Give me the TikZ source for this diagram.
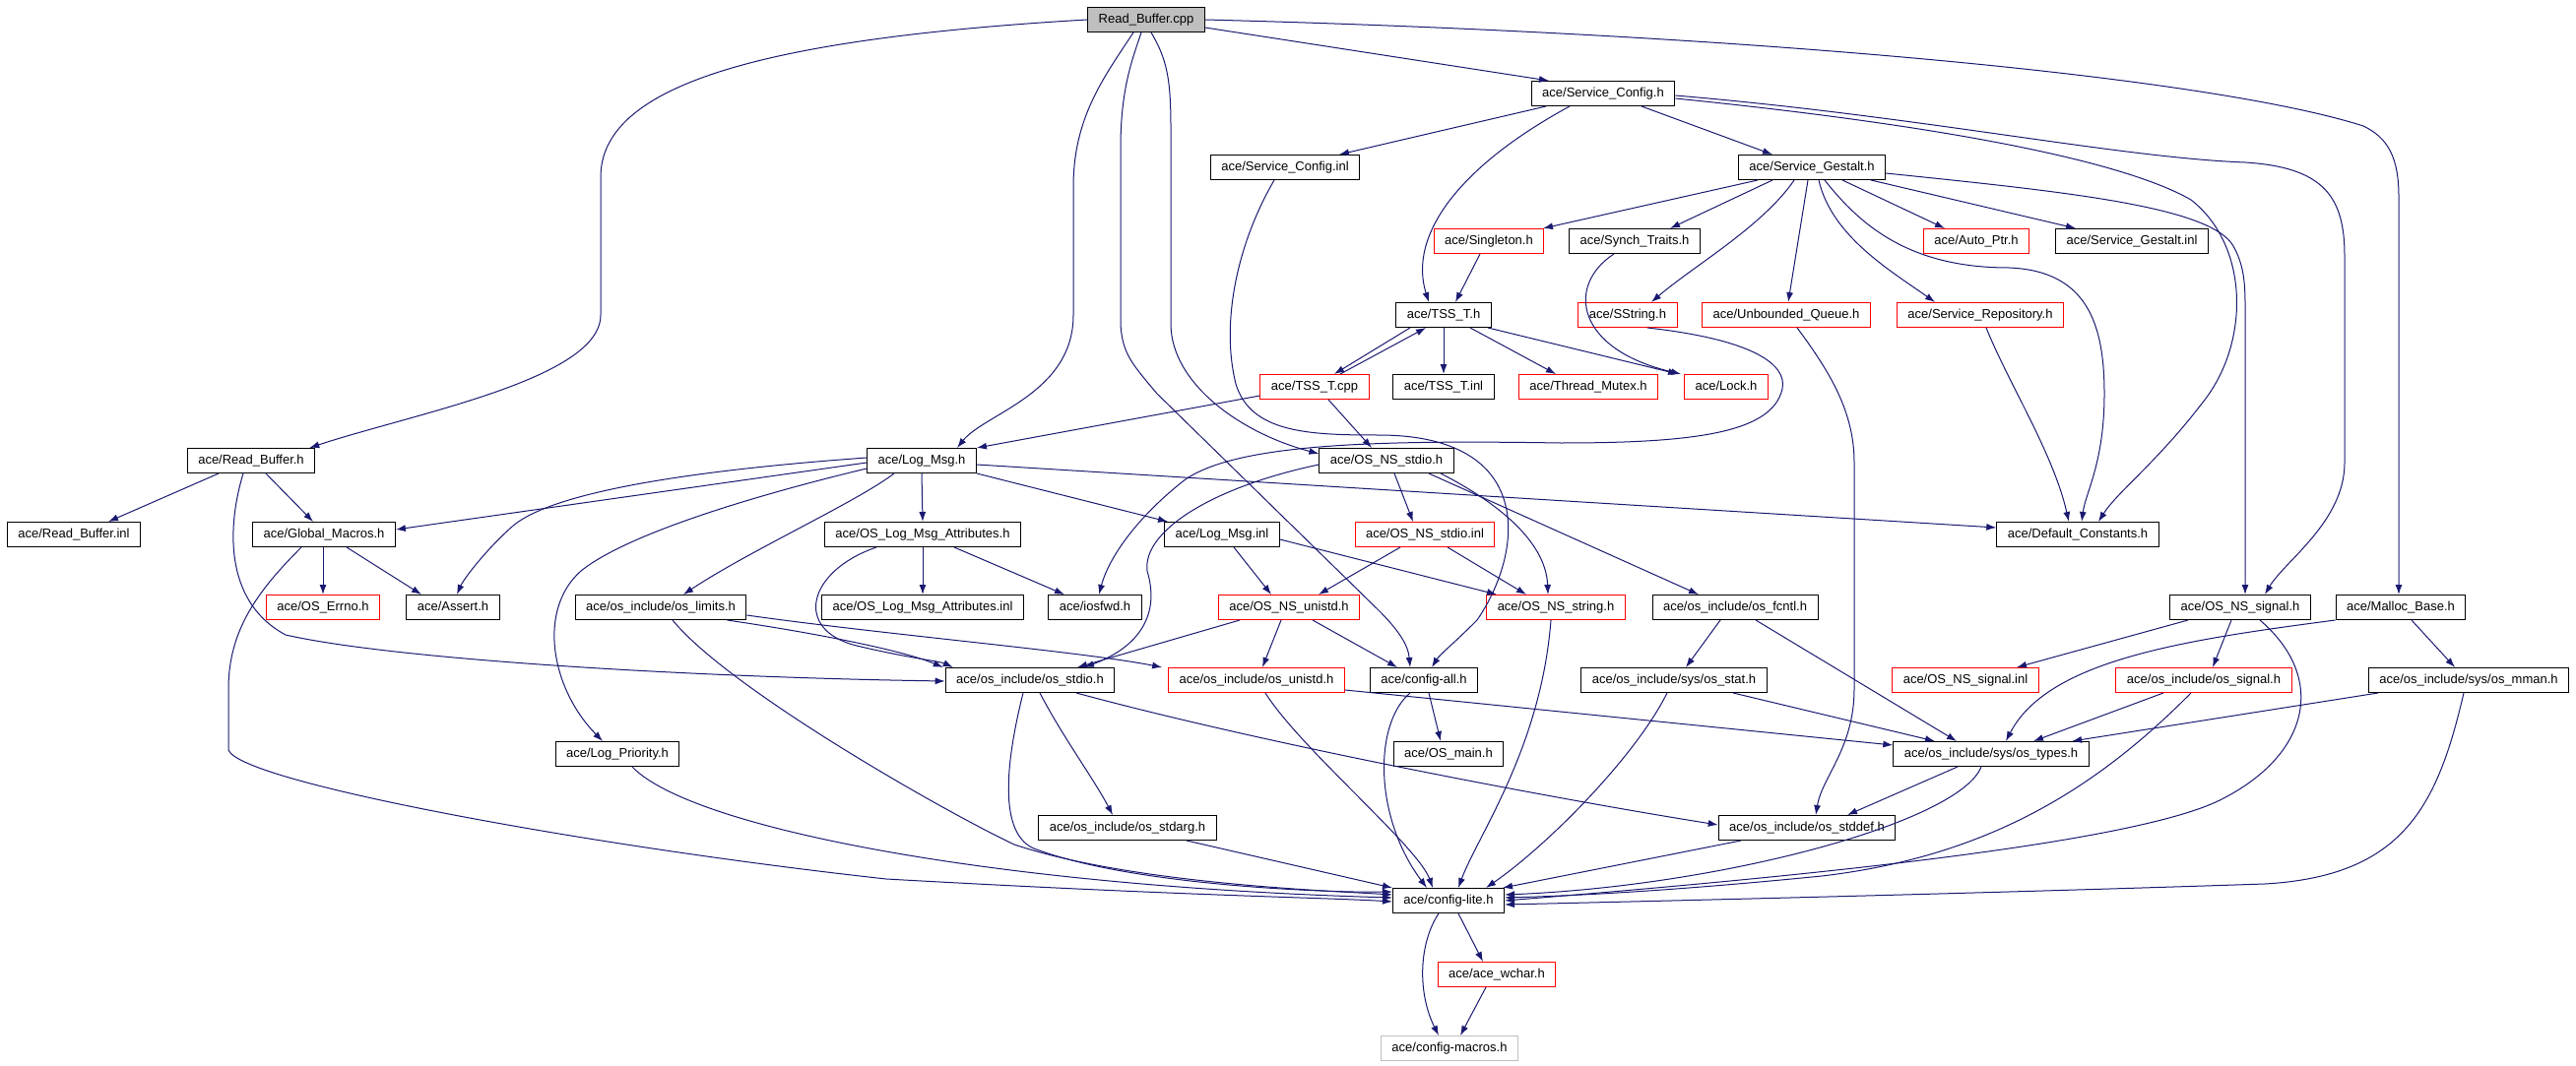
\documentclass[tikz,border=0pt]{standalone}
\usepackage{fontspec}
\setmainfont{Liberation Sans}
\usetikzlibrary{arrows.meta}
\definecolor{edgeblue}{RGB}{25,25,112}
\definecolor{cppgray}{RGB}{191,191,191}

\begin{document}
\begin{tikzpicture}[x=1pt, y=-1pt,
  hdr/.style={draw=black, fill=white, line width=1pt, minimum height=25pt, inner xsep=11pt, inner ysep=0pt,
    text height=9.5pt, text depth=2.8pt, font=\fontsize{13pt}{15pt}\selectfont},
  hdrred/.style={hdr, draw=red},
  dep/.style={draw=edgeblue, line width=1pt, -{Latex[length=10pt,width=7pt]}}]
\useasboundingbox (0,0) rectangle (2616,1083);

% Header files, row by row
\node[hdr, fill=cppgray] (cpp) at (1164,20) {Read\_Buffer.cpp};
\node[hdr] (svccfg) at (1628,95) {ace/Service\_Config.h};
\node[hdr] (svccfginl) at (1305,170) {ace/Service\_Config.inl};
\node[hdr] (gestalt) at (1840,170) {ace/Service\_Gestalt.h};
\node[hdrred] (singleton) at (1512,245) {ace/Singleton.h};
\node[hdr] (synch) at (1660,245) {ace/Synch\_Traits.h};
\node[hdrred] (autoptr) at (2007,245) {ace/Auto\_Ptr.h};
\node[hdr] (gestaltinl) at (2165,245) {ace/Service\_Gestalt.inl};
\node[hdr] (tsst) at (1466,320) {ace/TSS\_T.h};
\node[hdrred] (sstring) at (1653,320) {ace/SString.h};
\node[hdrred] (unbq) at (1814,320) {ace/Unbounded\_Queue.h};
\node[hdrred] (svcrepo) at (2011,320) {ace/Service\_Repository.h};
\node[hdrred] (tsscpp) at (1335,393) {ace/TSS\_T.cpp};
\node[hdr] (tssinl) at (1466,393) {ace/TSS\_T.inl};
\node[hdrred] (mutex) at (1613,393) {ace/Thread\_Mutex.h};
\node[hdrred] (lock) at (1753,393) {ace/Lock.h};
\node[hdr] (rbh) at (255,468) {ace/Read\_Buffer.h};
\node[hdr] (logmsg) at (936,468) {ace/Log\_Msg.h};
\node[hdr] (nsstdio) at (1408,468) {ace/OS\_NS\_stdio.h};
\node[hdr] (rbinl) at (75,543) {ace/Read\_Buffer.inl};
\node[hdr] (globmac) at (329,543) {ace/Global\_Macros.h};
\node[hdr] (attr) at (937,543) {ace/OS\_Log\_Msg\_Attributes.h};
\node[hdr] (logmsginl) at (1241,543) {ace/Log\_Msg.inl};
\node[hdrred] (nsstdioinl) at (1447,543) {ace/OS\_NS\_stdio.inl};
\node[hdr] (defconst) at (2110,543) {ace/Default\_Constants.h};
\node[hdrred] (errno) at (328,617) {ace/OS\_Errno.h};
\node[hdr] (assert) at (460,617) {ace/Assert.h};
\node[hdr] (limits) at (671,617) {ace/os\_include/os\_limits.h};
\node[hdr] (attrinl) at (937,617) {ace/OS\_Log\_Msg\_Attributes.inl};
\node[hdr] (iosfwd) at (1112,617) {ace/iosfwd.h};
\node[hdrred] (nsunistd) at (1309,617) {ace/OS\_NS\_unistd.h};
\node[hdrred] (nsstring) at (1580,617) {ace/OS\_NS\_string.h};
\node[hdr] (fcntl) at (1762,617) {ace/os\_include/os\_fcntl.h};
\node[hdr] (nssignal) at (2275,617) {ace/OS\_NS\_signal.h};
\node[hdr] (malloc) at (2438,617) {ace/Malloc\_Base.h};
\node[hdr] (stdio) at (1046,691) {ace/os\_include/os\_stdio.h};
\node[hdrred] (unistd) at (1276,691) {ace/os\_include/os\_unistd.h};
\node[hdr] (configall) at (1446,691) {ace/config-all.h};
\node[hdr] (stat) at (1700,691) {ace/os\_include/sys/os\_stat.h};
\node[hdrred] (nssignalinl) at (1996,691) {ace/OS\_NS\_signal.inl};
\node[hdrred] (signal) at (2238,691) {ace/os\_include/os\_signal.h};
\node[hdr] (mman) at (2507,691) {ace/os\_include/sys/os\_mman.h};
\node[hdr] (priority) at (627,766) {ace/Log\_Priority.h};
\node[hdr] (osmain) at (1471,766) {ace/OS\_main.h};
\node[hdr] (types) at (2022,766) {ace/os\_include/sys/os\_types.h};
\node[hdr] (stdarg) at (1145,841) {ace/os\_include/os\_stdarg.h};
\node[hdr] (stddef) at (1835,841) {ace/os\_include/os\_stddef.h};
\node[hdr] (lite) at (1471,915) {ace/config-lite.h};
\node[hdrred] (wchar) at (1520,990) {ace/ace\_wchar.h};
\node[hdr, draw=cppgray] (macros) at (1472,1065) {ace/config-macros.h};

% Includes of Read_Buffer.cpp
\draw[dep] (cpp.west) .. controls (760,40) and (610,90) .. (610,180) -- (610,320) .. controls (610,385) and (420,420) .. ([xshift=-6pt]rbh.north east);
\draw[dep] ([yshift=-8pt]cpp.east) -- ([xshift=-55pt]svccfg.north);
\draw[dep] (cpp.east) .. controls (1800,35) and (2250,80) .. (2400,128) .. controls (2425,140) and (2436,160) .. (2436,200) -- ([xshift=-2pt]malloc.north);
\draw[dep] ([xshift=-13pt]cpp.south) .. controls (1120,80) and (1090,120) .. (1090,190) -- (1090,320) .. controls (1090,400) and (1000,420) .. ([xshift=36pt]logmsg.north);
\draw[dep] ([xshift=-5pt]cpp.south) .. controls (1150,60) and (1138,90) .. (1138,150) -- (1138,330) .. controls (1140,360) and (1150,370) .. (1175,400) -- (1400,620) .. controls (1420,640) and (1430,655) .. ([xshift=-14pt]configall.north);
\draw[dep] ([xshift=5pt]cpp.south) .. controls (1185,60) and (1189,80) .. (1189,130) -- (1189,330) .. controls (1190,390) and (1260,440) .. ([yshift=7pt]nsstdio.west);

% Service configuration
\draw[dep] ([xshift=-58pt]svccfg.south) -- ([xshift=55pt]svccfginl.north);
\draw[dep] ([xshift=-34pt]svccfg.south) .. controls (1480,170) and (1430,240) .. ([xshift=-15pt]tsst.north);
\draw[dep] ([xshift=39pt]svccfg.south) -- ([xshift=-40pt]gestalt.north);
\draw[dep] ([yshift=-2pt]svccfg.east) .. controls (1950,118) and (2150,160) .. (2280,165) .. controls (2360,170) and (2381,200) .. (2381,260) -- (2381,470) .. controls (2381,530) and (2320,570) .. ([xshift=25pt]nssignal.north);
\draw[dep] ([yshift=-5pt]svccfg.east) .. controls (1950,125) and (2150,160) .. (2225,203) .. controls (2285,250) and (2285,350) .. (2236,410) .. controls (2190,470) and (2150,500) .. ([xshift=21pt]defconst.north);
\draw[dep] ([xshift=-11pt]svccfginl.south) .. controls (1255,250) and (1240,330) .. (1255,390) .. controls (1270,440) and (1330,442) .. (1400,442) .. controls (1560,442) and (1548,560) .. (1500,630) .. controls (1475,655) and (1462,665) .. ([xshift=8pt]configall.north);

% Service_Gestalt.h
\draw[dep] ([xshift=-55pt]gestalt.south) -- ([xshift=55pt]singleton.north);
\draw[dep] ([xshift=-40pt]gestalt.south) -- ([xshift=36pt]synch.north);
\draw[dep] ([xshift=-18pt]gestalt.south) .. controls (1790,230) and (1720,270) .. ([xshift=24pt]sstring.north);
\draw[dep] ([xshift=-4pt]gestalt.south) -- ([xshift=2pt]unbq.north);
\draw[dep] ([xshift=7pt]gestalt.south) .. controls (1860,240) and (1920,275) .. ([xshift=-46pt]svcrepo.north);
\draw[dep] ([xshift=13pt]gestalt.south) .. controls (1890,230) and (1940,272) .. (2040,272) .. controls (2120,275) and (2137,330) .. (2137,400) .. controls (2137,470) and (2118,500) .. ([xshift=4pt]defconst.north);
\draw[dep] ([xshift=31pt]gestalt.south) -- ([xshift=-32pt]autoptr.north);
\draw[dep] ([xshift=60pt]gestalt.south) -- ([xshift=-57pt]gestaltinl.north);
\draw[dep] ([yshift=-6pt]gestalt.east) .. controls (2100,195) and (2245,210) .. (2268,250) .. controls (2278,268) and (2280,285) .. (2280,310) -- ([xshift=5pt]nssignal.north);

% TSS and friends
\draw[dep] ([xshift=-21pt]synch.south) .. controls (1590,290) and (1600,355) .. ([xshift=-3pt]lock.north west);
\draw[dep] ([xshift=-9pt]singleton.south) -- ([xshift=12pt]tsst.north);
\draw[dep] ([xshift=20pt]sstring.south) .. controls (1780,345) and (1815,370) .. (1810,395) .. controls (1800,440) and (1720,450) .. (1585,450) .. controls (1400,447) and (1250,450) .. (1200,490) .. controls (1150,530) and (1125,570) .. ([xshift=4pt]iosfwd.north);
\draw[dep] ([xshift=11pt]unbq.south) .. controls (1860,380) and (1883,420) .. (1883,470) -- (1883,700) .. controls (1883,760) and (1850,790) .. ([xshift=9pt]stddef.north);
\draw[dep] ([xshift=6pt]svcrepo.south) .. controls (2040,390) and (2085,460) .. ([xshift=-9pt]defconst.north);
\draw[dep] ([xshift=-34pt]tsst.south) -- ([xshift=20pt]tsscpp.north);
\draw[dep] ([xshift=26pt]tsscpp.north) -- ([xshift=-18pt]tsst.south);
\draw[dep] (tsst.south) -- (tssinl.north);
\draw[dep] ([xshift=27pt]tsst.south) -- ([xshift=-33pt]mutex.north);
\draw[dep] ([xshift=45pt]tsst.south) -- ([xshift=-6pt]lock.north west);
\draw[dep] ([yshift=-9pt]tsscpp.west) -- (logmsg.north east);
\draw[dep] ([xshift=14pt]tsscpp.south) -- ([xshift=-15pt]nsstdio.north);

% Read_Buffer.h
\draw[dep] ([xshift=-33pt]rbh.south) -- ([xshift=35pt]rbinl.north);
\draw[dep] ([xshift=15pt]rbh.south) -- ([xshift=-11pt]globmac.north);
\draw[dep] ([xshift=-8pt]rbh.south) .. controls (232,530) and (225,610) .. (290,645) .. controls (400,670) and (700,688) .. ([yshift=-1pt]stdio.west);

% Log_Msg.h
\draw[dep] ([yshift=-2pt]logmsg.west) -- ([yshift=5pt]globmac.east);
\draw[dep] ([yshift=3pt]logmsg.west) .. controls (700,478) and (560,500) .. (520,535) .. controls (490,562) and (470,590) .. ([xshift=4pt]assert.north);
\draw[dep] ([yshift=-8pt]logmsg.west) .. controls (780,500) and (640,540) .. (590,580) .. controls (545,620) and (560,700) .. ([xshift=-15pt]priority.north);
\draw[dep] ([xshift=-28pt]logmsg.south) .. controls (870,510) and (760,560) .. ([xshift=23pt]limits.north);
\draw[dep] (logmsg.south) -- (attr.north);
\draw[dep] (logmsg.south east) -- ([xshift=-55pt]logmsginl.north);
\draw[dep] ([yshift=-4pt]logmsg.east) -- ([yshift=7pt]defconst.west);

% Global_Macros.h
\draw[dep] ([xshift=-1pt]globmac.south) -- (errno.north);
\draw[dep] ([xshift=23pt]globmac.south) -- ([xshift=-32pt]assert.north);
\draw[dep] ([xshift=-23pt]globmac.south) .. controls (262,600) and (232,640) .. (232,700) -- (232,762) .. controls (245,795) and (600,860) .. (900,893) .. controls (1200,910) and (1350,912) .. ([yshift=-1pt]lite.west);

% os_limits.h, Log_Priority.h, OS_Log_Msg_Attributes.h
\draw[dep] ([xshift=12pt]limits.south) .. controls (740,700) and (960,825) .. (1030,858) .. controls (1150,898) and (1350,905) .. ([yshift=6pt]lite.west);
\draw[dep] ([xshift=-20pt]limits.south east) .. controls (840,645) and (920,662) .. ([xshift=-2pt]stdio.north west);
\draw[dep] ([yshift=-8pt]limits.east) .. controls (900,645) and (1100,662) .. ([xshift=-6pt]unistd.north west);
\draw[dep] ([xshift=15pt]priority.south) .. controls (700,840) and (1000,900) .. ([yshift=3pt]lite.west);
\draw[dep] (attr.south) -- (attrinl.north);
\draw[dep] ([xshift=32pt]attr.south) -- ([xshift=-31pt]iosfwd.north);
\draw[dep] ([xshift=-47pt]attr.south) .. controls (820,580) and (805,640) .. (870,656) .. controls (920,668) and (955,672) .. ([xshift=8pt]stdio.north west);

% OS_NS_stdio.h and the inl files
\draw[dep] ([yshift=-4pt]nsstdio.west) .. controls (1230,495) and (1160,540) .. (1165,580) .. controls (1180,630) and (1150,660) .. ([xshift=55pt]stdio.north);
\draw[dep] ([xshift=8pt]nsstdio.south) -- ([xshift=-12pt]nsstdioinl.north);
\draw[dep] ([xshift=43pt]nsstdio.south) -- ([xshift=-37pt]fcntl.north);
\draw[dep] ([xshift=55pt]nsstdio.south) .. controls (1520,510) and (1570,550) .. ([xshift=-8pt]nsstring.north);
\draw[dep] ([xshift=12pt]logmsginl.south) -- ([xshift=-18pt]nsunistd.north);
\draw[dep] ([yshift=-5pt]logmsginl.east) -- ([xshift=-60pt]nsstring.north);
\draw[dep] ([xshift=-25pt]nsstdioinl.south) -- ([xshift=30pt]nsunistd.north);
\draw[dep] ([xshift=23pt]nsstdioinl.south) -- ([xshift=-30pt]nsstring.north);
\draw[dep] ([xshift=-50pt]nsunistd.south) -- ([xshift=48pt]stdio.north);
\draw[dep] ([xshift=-8pt]nsunistd.south) -- ([xshift=6pt]unistd.north);
\draw[dep] ([xshift=24pt]nsunistd.south) -- ([xshift=-27pt]configall.north);

% os_include level
\draw[dep] ([xshift=-7pt]stdio.south) .. controls (1025,760) and (1010,845) .. (1050,862) .. controls (1150,900) and (1350,907) .. ([yshift=9pt]lite.west);
\draw[dep] ([xshift=10pt]stdio.south) .. controls (1080,750) and (1110,790) .. ([xshift=-15pt]stdarg.north);
\draw[dep] ([xshift=47pt]stdio.south) .. controls (1300,760) and (1600,815) .. ([yshift=3pt]stddef.west);
\draw[dep] ([xshift=60pt]stdarg.south) -- (lite.north west);
\draw[dep] ([xshift=9pt]unistd.south) .. controls (1320,760) and (1440,860) .. ([xshift=-16pt]lite.north);
\draw[dep] ([yshift=-10pt]unistd.east) -- ([yshift=9pt]types.west);
\draw[dep] ([xshift=5pt]configall.south) -- ([xshift=-8pt]osmain.north);
\draw[dep] ([xshift=-14pt]configall.south) .. controls (1395,735) and (1395,830) .. ([xshift=-22pt]lite.north);
\draw[dep] ([xshift=-5pt]nsstring.south) .. controls (1565,760) and (1500,850) .. ([xshift=10pt]lite.north);
\draw[dep] ([xshift=-7pt]stat.south) .. controls (1660,770) and (1570,860) .. ([xshift=38pt]lite.north);
\draw[dep] ([xshift=60pt]stat.south) -- ([xshift=-57pt]types.north);
\draw[dep] ([xshift=-15pt]fcntl.south) -- ([xshift=12pt]stat.north);
\draw[dep] ([xshift=21pt]fcntl.south) -- ([xshift=-35pt]types.north);
\draw[dep] ([xshift=-67pt]stddef.south) -- ([xshift=-2pt]lite.north east);
\draw[dep] ([xshift=-34pt]types.south) -- ([xshift=41pt]stddef.north);
\draw[dep] ([xshift=-10pt]types.south) .. controls (1990,835) and (1750,900) .. ([yshift=6pt]lite.east);

% signal, Malloc_Base and mman
\draw[dep] ([xshift=-41pt]signal.south) -- ([xshift=43pt]types.north);
\draw[dep] ([xshift=-13pt]signal.south) .. controls (2130,800) and (2020,870) .. (1850,890) .. controls (1700,905) and (1600,910) .. ([yshift=3pt]lite.east);
\draw[dep] ([xshift=-53pt]nssignal.south) -- ([xshift=52pt]nssignalinl.north);
\draw[dep] ([xshift=-9pt]nssignal.south) -- ([xshift=9pt]signal.north);
\draw[dep] ([xshift=20pt]nssignal.south) .. controls (2365,690) and (2345,770) .. (2250,815) .. controls (2150,860) and (1800,893) .. (lite.east);
\draw[dep] (malloc.south west) .. controls (2220,650) and (2080,670) .. ([xshift=15pt]types.north);
\draw[dep] ([xshift=11pt]malloc.south) -- ([xshift=-14pt]mman.north);
\draw[dep] ([xshift=-92pt]mman.south) -- ([xshift=82pt]types.north);
\draw[dep] ([xshift=-5pt]mman.south) .. controls (2475,820) and (2440,890) .. (2300,898) .. controls (2000,908) and (1700,915) .. ([yshift=-4pt]lite.east);

% config-lite.h
\draw[dep] ([xshift=10pt]lite.south) -- ([xshift=-14pt]wchar.north);
\draw[dep] ([xshift=-10pt]lite.south) .. controls (1440,960) and (1440,1010) .. ([xshift=-11pt]macros.north);
\draw[dep] ([xshift=-11pt]wchar.south) -- ([xshift=11pt]macros.north);

\end{tikzpicture}
\end{document}
